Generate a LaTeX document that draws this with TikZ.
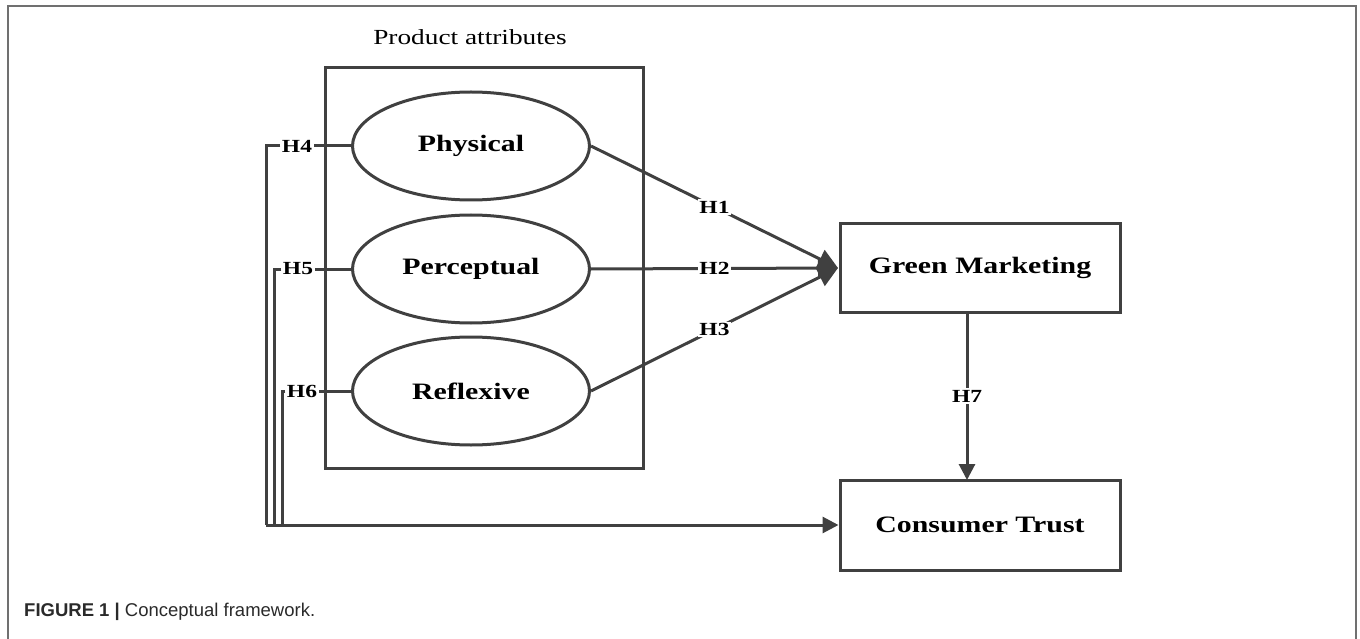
\documentclass[tikz,border=0pt]{standalone}
\usepackage{fontspec}
\usetikzlibrary{shapes.geometric,arrows.meta}
\setmainfont{Liberation Serif}
\newfontfamily\lblfont[FakeStretch=1.27]{Liberation Serif}
\newfontfamily\capfont{Liberation Sans}
\definecolor{ln}{HTML}{404040}
\definecolor{frm}{HTML}{707070}
\definecolor{captxt}{HTML}{2A2A2A}
\tikzset{
  ln/.style={draw=ln,line width=3pt},
  oval/.style={ellipse,ln,minimum width=237pt,minimum height=108pt,inner sep=0pt,font=\lblfont\fontsize{23.5}{26}\selectfont\bfseries},
  boxnode/.style={rectangle,ln,inner sep=0pt,font=\lblfont\fontsize{23.5}{26}\selectfont\bfseries},
  hlab/.style={fill=white,inner sep=1.5pt,font=\lblfont\fontsize{18.5}{20}\selectfont\bfseries},
  arr/.style={ln,-{Triangle[length=20pt,width=20pt]}},
  arrs/.style={ln,-{Triangle[length=16pt,width=16pt]}}
}
\begin{document}
\begin{tikzpicture}[x=1pt,y=-1pt]
\useasboundingbox (0,0) rectangle (1360,639);
% outer frame
\draw[frm,line width=2pt] (8,639) -- (8,6) -- (1356,6) -- (1356,639);
% caption
\node[anchor=west,text=captxt,font=\capfont\fontsize{18.5}{20}\selectfont,inner sep=0pt] (cap) at (24,612) {\textbf{FIGURE 1 |} Conceptual framework.};
% product attributes
\node[font=\lblfont\fontsize{21.5}{24}\selectfont,inner sep=0pt] (pa) at (470,37) {Product attributes};
\node[rectangle,ln,minimum width=318pt,minimum height=400pt,inner sep=0pt] (big) at (484,268) {};
% ellipses
\node[oval,fill=white] (phys) at (471,146) {Physical};
\node[oval,fill=white] (perc) at (471,269) {Perceptual};
\node[oval,fill=white] (refl) at (471,391) {Reflexive};
% boxes
\node[boxnode,minimum width=280pt,minimum height=88pt] (gm) at (980,268) {Green Marketing};
\node[boxnode,minimum width=280pt,minimum height=90pt] (ct) at (980,525) {Consumer Trust};
% H1-H3
\coordinate (gmin) at (838,268);
\draw[arr] (phys.east) -- node[hlab] (h1) {H1} (gmin);
\draw[arr] (perc.east) -- node[hlab] (h2) {H2} (gmin);
\draw[arr] (refl.east) -- node[hlab] (h3) {H3} (gmin);
% H7
\coordinate (gmbot) at (967,312);
\coordinate (cttop) at (967,480);
\draw[arrs] (gmbot) -- node[hlab,pos=0.5] (h7) {H7} (cttop);
% H4-H6
\node[hlab,fill=none] (h4) at (297,146) {H4};
\node[hlab,fill=none] (h5) at (298,269) {H5};
\node[hlab,fill=none] (h6) at (302,391) {H6};
\coordinate (c4) at (266,146);
\coordinate (c5) at (274,269);
\coordinate (c6) at (282,391);
\coordinate (b4) at (266,525);
\coordinate (b5) at (274,525);
\coordinate (b6) at (282,525);
\draw[ln] (phys.west) -- (h4.east);
\draw[ln] (perc.west) -- (h5.east);
\draw[ln] (refl.west) -- (h6.east);
\draw[ln,line join=miter] (h4.west) -- (c4) -- (b4);
\draw[ln,line join=miter] (h5.west) -- (c5) -- (b5);
\draw[ln,line join=miter] (h6.west) -- (c6) -- (b6);
\draw[arrs] (b4) -- (ct.west);
\end{tikzpicture}
\end{document}
